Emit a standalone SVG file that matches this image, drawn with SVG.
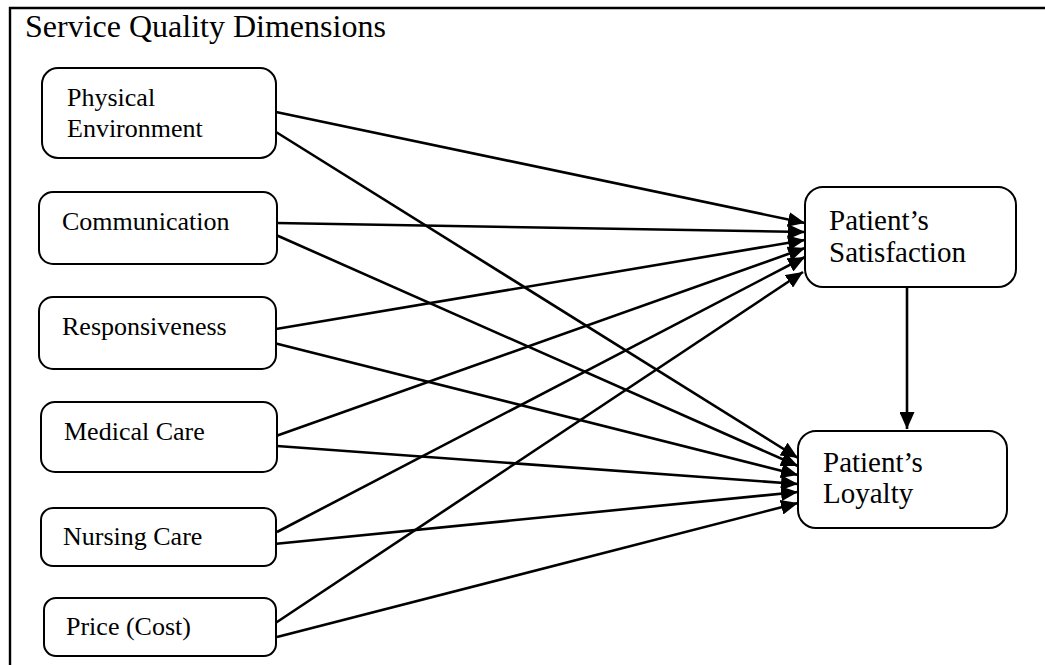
<svg xmlns="http://www.w3.org/2000/svg" width="1045" height="665" viewBox="0 0 1045 665">
<style>
.box{fill:#fff;stroke:#000;stroke-width:2}
.t{font-family:"Liberation Serif","Times New Roman",serif;font-size:26px;fill:#000}
.t2{font-family:"Liberation Serif","Times New Roman",serif;font-size:29px;fill:#000}
.c{stroke:#000;stroke-width:2.6;fill:none;marker-end:url(#ah)}
</style>
<defs>
<marker id="ah" markerUnits="userSpaceOnUse" markerWidth="18" markerHeight="15" refX="17" refY="7.5" orient="auto">
<path d="M0,0 L17,7.5 L0,15 z" fill="#000"/>
</marker>
</defs>
<rect width="1045" height="665" fill="#fff"/>
<g id="frame">
<path d="M10,665 V8 H1045" stroke="#000" stroke-width="2.4" fill="none"/>
<text x="25" y="37" font-family="Liberation Serif, Times New Roman, serif" font-size="32" fill="#000">Service Quality Dimensions</text>
</g>
<g id="connectors">
<line class="c" x1="276" y1="112" x2="805" y2="223"/>
<line class="c" x1="276" y1="132" x2="798" y2="458"/>
<line class="c" x1="276" y1="223" x2="805" y2="232"/>
<line class="c" x1="276" y1="235" x2="798" y2="466"/>
<line class="c" x1="276" y1="329" x2="805" y2="240"/>
<line class="c" x1="274" y1="343" x2="798" y2="475"/>
<line class="c" x1="276" y1="436" x2="805" y2="248"/>
<line class="c" x1="277" y1="446" x2="798" y2="484"/>
<line class="c" x1="277" y1="532" x2="805" y2="257"/>
<line class="c" x1="274" y1="544" x2="798" y2="492"/>
<line class="c" x1="274" y1="624" x2="803" y2="272"/>
<line class="c" x1="277" y1="637" x2="798" y2="503"/>
<line class="c" x1="907" y1="287" x2="907" y2="429"/>
</g>
<g id="physical">
<rect class="box" x="42" y="68" width="234" height="90" rx="16"/>
<text class="t" x="67" y="106">Physical</text>
<text class="t" x="67" y="137">Environment</text>
</g>
<g id="communication">
<rect class="box" x="39" y="192" width="238" height="72" rx="14"/>
<text class="t" x="62" y="230">Communication</text>
</g>
<g id="responsiveness">
<rect class="box" x="39" y="297" width="237" height="72" rx="14"/>
<text class="t" x="62" y="335">Responsiveness</text>
</g>
<g id="medical">
<rect class="box" x="41" y="402" width="236" height="70" rx="14"/>
<text class="t" x="64" y="440">Medical Care</text>
</g>
<g id="nursing">
<rect class="box" x="41" y="508" width="235" height="58" rx="12"/>
<text class="t" x="63" y="545">Nursing Care</text>
</g>
<g id="price">
<rect class="box" x="44" y="598" width="232" height="58" rx="12"/>
<text class="t" x="66" y="635">Price (Cost)</text>
</g>
<g id="satisfaction">
<rect class="box" x="805" y="187" width="211" height="100" rx="18"/>
<text class="t2" x="829" y="230">Patient’s</text>
<text class="t2" x="829" y="262">Satisfaction</text>
</g>
<g id="loyalty">
<rect class="box" x="798" y="431" width="209" height="97" rx="18"/>
<text class="t2" x="823" y="472">Patient’s</text>
<text class="t2" x="823" y="503">Loyalty</text>
</g>
</svg>
